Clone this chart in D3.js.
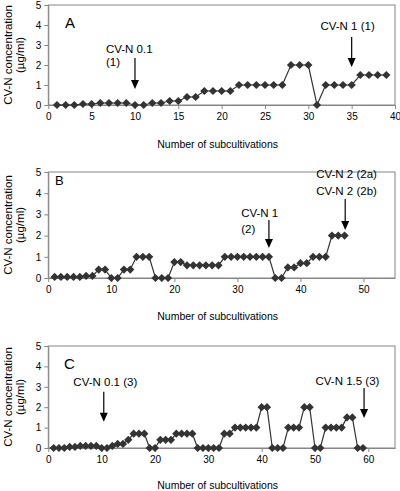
<!DOCTYPE html>
<html>
<head>
<meta charset="utf-8">
<script src="https://cdn.jsdelivr.net/npm/d3@7"></script>
<style>
  body { margin: 0; background: #fff; }
  svg { display: block; font-family: "Liberation Sans", Arial, sans-serif; }
</style>
</head>
<body>
<svg id="chart" width="400" height="491"></svg>
<script>
// ---- data (values indexed by subcultivation number 1..n) ----
const valuesA = [0, 0, 0, 0.05, 0.05, 0.1, 0.1, 0.1, 0.1, 0, 0, 0.1, 0.1, 0.2, 0.2, 0.4, 0.4, 0.7, 0.7, 0.7,
                 0.7, 1, 1, 1, 1, 1, 1, 2, 2, 2, 0, 1, 1, 1, 1, 1.5, 1.5, 1.5, 1.5];
const valuesB = [0.05, 0.05, 0.05, 0.05, 0.05, 0.1, 0.1, 0.4, 0.4, 0, 0, 0.4, 0.4, 1, 1, 1, 0, 0, 0, 0.75,
                 0.75, 0.6, 0.6, 0.6, 0.6, 0.6, 0.6, 1, 1, 1, 1, 1, 1, 1, 1, 0, 0, 0.5, 0.5, 0.7,
                 0.7, 1, 1, 1, 2, 2, 2];
const valuesC = [0, 0, 0, 0.05, 0.05, 0.1, 0.1, 0.1, 0.1, 0, 0, 0.1, 0.2, 0.2, 0.4, 0.7, 0.7, 0.7, 0, 0,
                 0.4, 0.4, 0.4, 0.7, 0.7, 0.7, 0.7, 0, 0, 0, 0, 0, 0.7, 0.7, 1, 1, 1, 1, 1, 2,
                 2, 0, 0, 0, 1, 1, 1, 2, 2, 0, 0, 1, 1, 1, 1, 1.5, 1.5, 0, 0];
const xTicksA = [0, 5, 10, 15, 20, 25, 30, 35, 40];
const xTicksB = [0, 10, 20, 30, 40, 50];
const xTicksC = [0, 10, 20, 30, 40, 50, 60];
const yTicks = [0, 1, 2, 3, 4, 5];
const panelLetters = ["A", "B", "C"];
const xTitle = "Number of subcultivations";
const yTitle1 = "CV-N concentration";
const yTitle2 = "(µg/ml)";
// annotations: text lines (x,y in data units for baselines), arrow x and y-range in data units
const annotA = [
  { lines: ["CV-N 0.1", "(1)"], tx: 6.65, ty: [2.62, 1.94], ax: 10, ay: [2.35, 0.8] },
  { lines: ["CV-N 1 (1)"], tx: 31.4, ty: [3.75], ax: 35, ay: [3.4, 1.9] }
];
const annotB = [
  { lines: ["CV-N 1", "(2)"], tx: 30.6, ty: [2.89, 2.14], ax: 35, ay: [2.74, 1.42] },
  { lines: ["CV-N 2 (2a)", "CV-N 2 (2b)"], tx: 42.5, ty: [4.72, 3.92], ax: 47.1, ay: [3.73, 2.26] }
];
const annotC = [
  { lines: ["CV-N 0.1 (3)"], tx: 4.7, ty: [3.04], ax: 10.4, ay: [2.76, 1.29] },
  { lines: ["CV-N 1.5 (3)"], tx: 50.1, ty: [3.09], ax: 59.2, ay: [2.94, 1.47] }
];

// ---- layout ----
const panels = [
  { values: valuesA, xMax: 40, xTicks: xTicksA, top: 5, bottom: 105, letter: panelLetters[0], lx: 65, ly: 28, lsize: 15, annots: annotA, titleY: 148 },
  { values: valuesB, xMax: 55, xTicks: xTicksB, top: 172, bottom: 278, letter: panelLetters[1], lx: 55, ly: 185, lsize: 13, annots: annotB, titleY: 320 },
  { values: valuesC, xMax: 65, xTicks: xTicksC, top: 346, bottom: 448, letter: panelLetters[2], lx: 64, ly: 369, lsize: 15, annots: annotC, titleY: 489 }
];
const left = 48.3, right = 395;
const axisColor = "#868686";
const markColor = "#333333";

const diamond = {
  draw(ctx, size) {
    const r = Math.sqrt(size / 2);
    ctx.moveTo(0, -r); ctx.lineTo(r, 0); ctx.lineTo(0, r); ctx.lineTo(-r, 0); ctx.closePath();
  }
};

const svg = d3.select("#chart");

panels.forEach(p => {
  const x = d3.scaleLinear().domain([0, p.xMax]).range([left, right]);
  const y = d3.scaleLinear().domain([0, 5]).range([p.bottom, p.top]);
  const g = svg.append("g");

  // plot border
  g.append("rect").attr("x", left).attr("y", p.top)
    .attr("width", right - left).attr("height", p.bottom - p.top)
    .attr("fill", "none").attr("stroke", axisColor).attr("stroke-width", 1);

  // x axis
  const xa = g.append("g").attr("transform", `translate(0,${p.bottom})`)
    .call(d3.axisBottom(x).tickValues(p.xTicks).tickFormat(d3.format("d")).tickSize(4).tickSizeOuter(0).tickPadding(4));
  xa.select(".domain").attr("stroke", axisColor);
  xa.selectAll(".tick line").attr("stroke", axisColor);
  xa.selectAll(".tick text").attr("font-size", 10).attr("fill", "#000")
    .attr("font-family", "Liberation Sans, Arial, sans-serif");

  // y axis
  const ya = g.append("g").attr("transform", `translate(${left},0)`)
    .call(d3.axisLeft(y).tickValues(yTicks).tickFormat(d3.format("d")).tickSize(4).tickSizeOuter(0).tickPadding(3));
  ya.select(".domain").attr("stroke", axisColor);
  ya.selectAll(".tick line").attr("stroke", axisColor);
  ya.selectAll(".tick text").attr("font-size", 10).attr("fill", "#000")
    .attr("font-family", "Liberation Sans, Arial, sans-serif");

  // line + markers
  const pts = p.values.map((v, i) => ({ x: i + 1, v }));
  g.append("path").datum(pts)
    .attr("d", d3.line().x(d => x(d.x)).y(d => y(d.v)))
    .attr("fill", "none").attr("stroke", markColor).attr("stroke-width", 1.2);
  g.selectAll(".pt").data(pts).enter().append("path")
    .attr("transform", d => `translate(${x(d.x)},${y(d.v)})`)
    .attr("d", d3.symbol().type(diamond).size(34))
    .attr("fill", markColor);

  // panel letter
  g.append("text").attr("x", p.lx).attr("y", p.ly).attr("font-size", p.lsize).text(p.letter);

  // annotations
  p.annots.forEach(a => {
    a.lines.forEach((t, i) => {
      g.append("text").attr("x", x(a.tx)).attr("y", y(a.ty[i])).attr("font-size", 11.5).text(t);
    });
    const ax = x(a.ax), y0 = y(a.ay[0]), y1 = y(a.ay[1]);
    g.append("line").attr("x1", ax).attr("x2", ax).attr("y1", y0).attr("y2", y1 - 8)
      .attr("stroke", "#000").attr("stroke-width", 1.2);
    g.append("path").attr("d", `M${ax - 4},${y1 - 9}L${ax + 4},${y1 - 9}L${ax},${y1}Z`).attr("fill", "#000");
  });

  // axis titles
  g.append("text").attr("x", (left + right) / 2 - 4).attr("y", p.titleY)
    .attr("text-anchor", "middle").attr("font-size", 10.5).text(xTitle);
  const cy = (p.top + p.bottom) / 2;
  g.append("text").attr("transform", `translate(12,${cy}) rotate(-90)`)
    .attr("text-anchor", "middle").attr("font-size", 11.5).text(yTitle1);
  g.append("text").attr("transform", `translate(24,${cy}) rotate(-90)`)
    .attr("text-anchor", "middle").attr("font-size", 11.5).text(yTitle2);
});
</script>
</body>
</html>
